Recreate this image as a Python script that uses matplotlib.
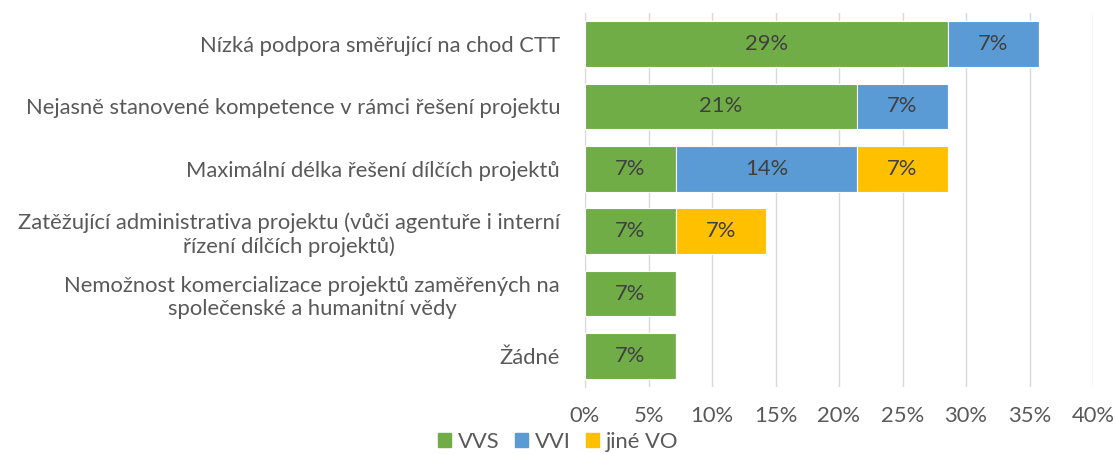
import numpy as np
import matplotlib.pyplot as plt
from matplotlib.patches import Patch

# data (shares of respondents, in %)
categories = [
    "Nízká podpora směřující na chod CTT",
    "Nejasně stanovené kompetence v rámci řešení projektu",
    "Maximální délka řešení dílčích projektů",
    "Zatěžující administrativa projektu (vůči agentuře i interní\nřízení dílčích projektů)",
    "Nemožnost komercializace projektů zaměřených na\nspolečenské a humanitní vědy",
    "Žádné",
]
vvs = [28.57, 21.43, 7.14, 7.14, 7.14, 7.14]
vvi = [7.14, 7.14, 14.29, 0, 0, 0]
jine_vo = [0, 0, 7.14, 7.14, 0, 0]
series_names = ["VVS", "VVI", "jiné VO"]
colors = ["#70AD47", "#5B9BD5", "#FFC000"]
xticks = [0, 5, 10, 15, 20, 25, 30, 35, 40]

plt.rcParams['font.family'] = ['Lato', 'DejaVu Sans']
fs = 15.8

fig = plt.figure(figsize=(11.16, 4.54), dpi=100)
ax = fig.add_axes([585/1116, 1-387/454, (1093-585)/1116, (387-13)/454])

y = np.arange(len(categories))
left = np.zeros(len(categories))
for vals, name, col in zip([vvs, vvi, jine_vo], series_names, colors):
    vals = np.array(vals)
    ax.barh(y, vals, left=left, height=0.73, color=col, edgecolor="white", linewidth=0.8, zorder=3)
    for yi, l, v in zip(y, left, vals):
        if v > 0:
            ax.text(l + v/2, yi, "%d%%" % round(v), ha="center", va="center",
                    fontsize=fs, color="#404040", zorder=4)
    left = left + vals

ax.set_xlim(0, 40)
ax.set_ylim(len(categories) - 0.5, -0.5)
ax.set_xticks(xticks)
ax.set_xticklabels(["%d%%" % t for t in xticks])
ax.set_yticks(y)
ax.set_yticklabels(categories)
for lab in ax.get_yticklabels():
    lab.set_multialignment("center")
    lab.set_linespacing(1.2)
ax.tick_params(axis="x", length=0, pad=14, labelsize=fs, labelcolor="#595959")
ax.tick_params(axis="y", length=0, pad=18, labelsize=fs, labelcolor="#595959")
ax.grid(axis="x", color="#D9D9D9", linewidth=1, zorder=0)
for s in ["top", "right", "bottom"]:
    ax.spines[s].set_visible(False)
ax.spines["left"].set_color("#D9D9D9")

handles = [Patch(color=c, label=n) for c, n in zip(colors, series_names)]
fig.legend(handles=handles, loc="center", bbox_to_anchor=(0.5, 1-442/454), ncol=3,
           frameon=False, fontsize=fs, labelcolor="#595959", handlelength=0.6,
           handleheight=0.6, handletextpad=0.3, columnspacing=0.7, borderpad=0)

fig.savefig("out.png", dpi=100)
